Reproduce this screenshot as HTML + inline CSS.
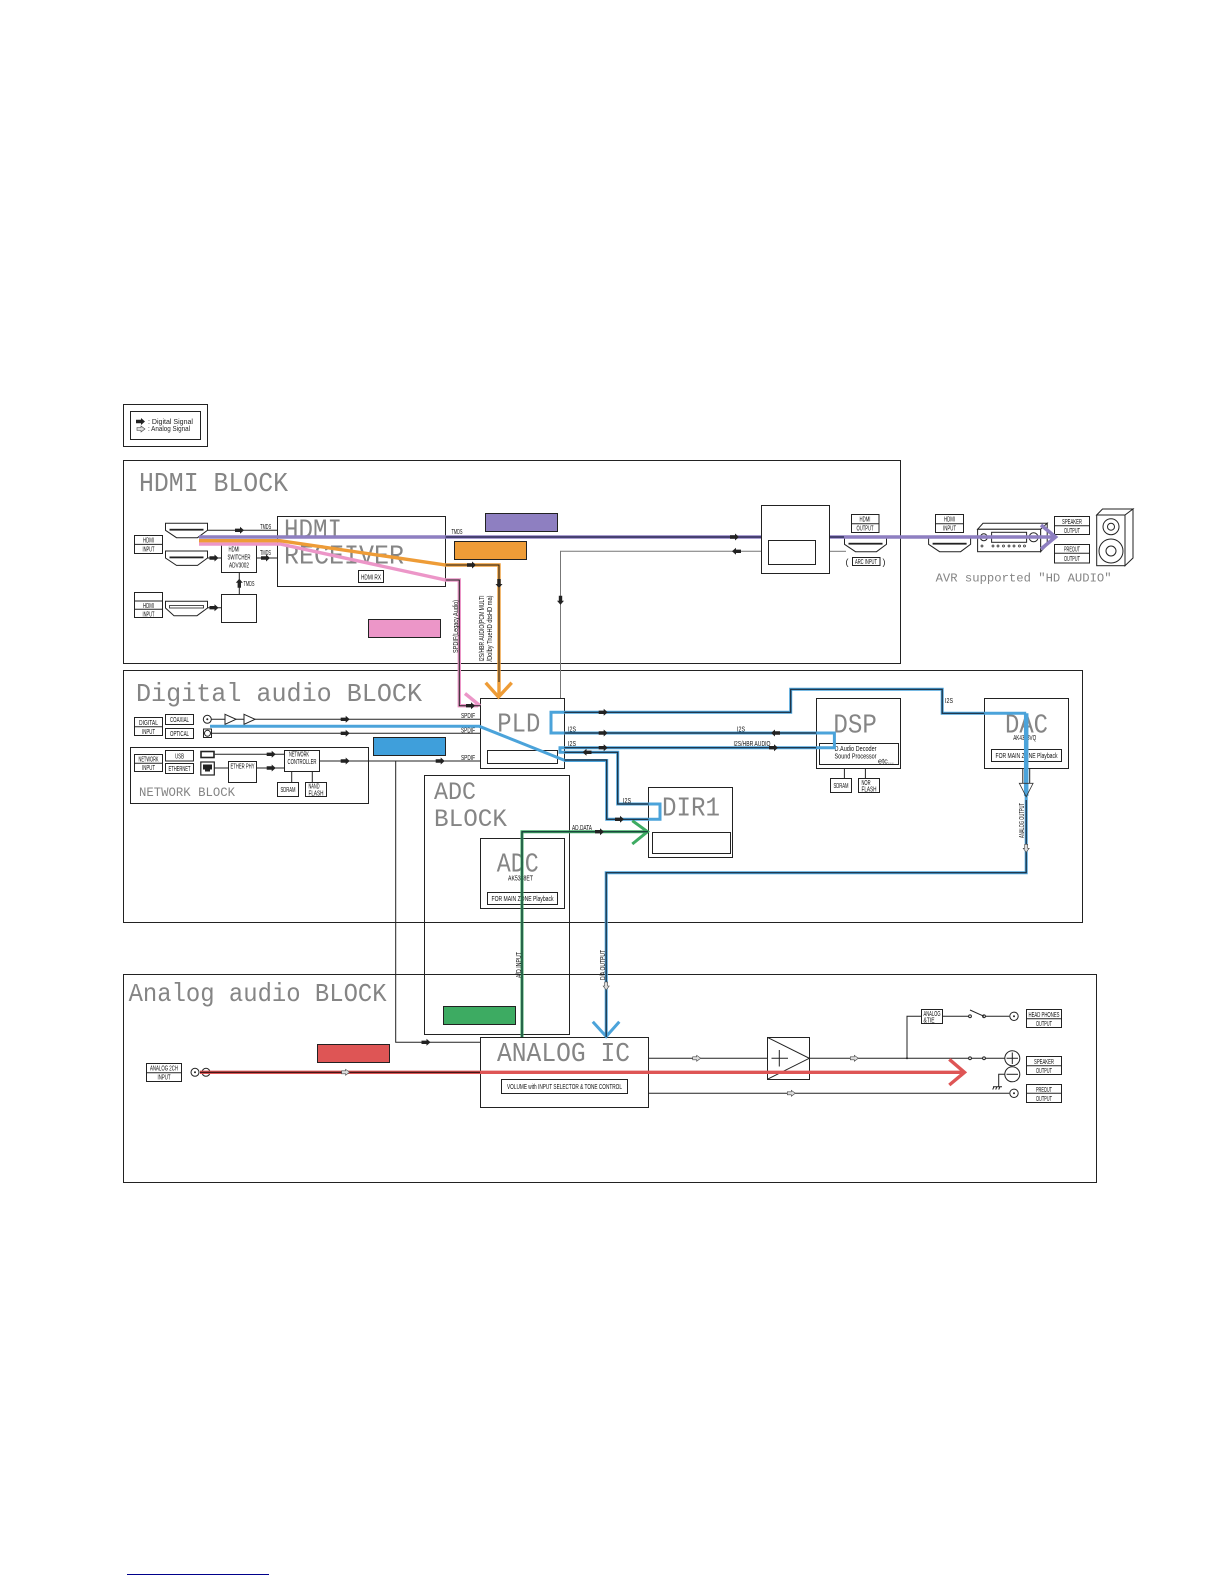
<!DOCTYPE html>
<html><head><meta charset="utf-8"><title>Block diagram</title>
<style>
html,body{margin:0;padding:0;background:#fff}
svg{display:block}
text{font-family:"Liberation Sans",sans-serif;fill:#222}
.t{font-family:"Liberation Mono",monospace;fill:#858585}
.s{font-size:7.2px;text-anchor:middle;font-family:"Liberation Sans",sans-serif;fill:#111}
.b{fill:none;stroke:#222;stroke-width:1}
.w{fill:#fff;stroke:#222;stroke-width:1}
.k{fill:none;stroke:#222;stroke-width:1}
.d{fill:none;stroke:#1b2a3a;stroke-width:1.2}
.cb{fill:none;stroke:#4ba3da;stroke-width:3}
</style></head><body>
<svg xmlns="http://www.w3.org/2000/svg" width="1224" height="1584" viewBox="0 0 1224 1584">
<defs>
<path id="a" d="M-5-1.7H0V-3.5L4 0 0 3.5V1.7H-5Z" fill="#222"/>
<path id="o" d="M-4-1.5H0V-3L4 0 0 3V1.5H-4Z" fill="#ddd" stroke="#444" stroke-width=".6"/>
<g id="hc"><path class="w" d="M0 0H42V7L32 14.4H11L0 7Z"/><rect x="4" y="5.5" width="34" height="1.8" fill="#222"/></g>
</defs>

<!-- Block frames -->
<rect class="b" x="123.5" y="404.5" width="84" height="42"/>
<rect class="b" x="130.5" y="411.5" width="70" height="28"/>
<rect class="b" x="123.5" y="460.5" width="777" height="203"/>
<rect class="b" x="123.5" y="670.5" width="959" height="252"/>
<rect class="b" x="123.5" y="974.5" width="973" height="208"/>

<!-- Legend -->
<use href="#a" x="141" y="421.5"/><use href="#o" x="141" y="429"/>
<text x="148" y="424" font-size="7" textLength="45" lengthAdjust="spacingAndGlyphs">: Digital Signal</text>
<text x="148" y="431" font-size="7" textLength="42" lengthAdjust="spacingAndGlyphs">: Analog Signal</text>

<!-- Titles -->
<text class="t" x="139" y="491" font-size="27" textLength="149" lengthAdjust="spacingAndGlyphs">HDMI BLOCK</text>
<text class="t" x="136" y="701" font-size="26" textLength="286" lengthAdjust="spacingAndGlyphs">Digital audio BLOCK</text>
<text class="t" x="128.6" y="1001" font-size="26" textLength="258" lengthAdjust="spacingAndGlyphs">Analog audio BLOCK</text>

<!-- ADC frame and gray lines -->
<rect class="b" x="424.5" y="775.5" width="145" height="259"/>
<path class="k" d="M395.7 761V1042.3H480"/>
<use href="#a" x="426.5" y="1042.3"/>
<path fill="none" stroke="#777" stroke-width="1" d="M761 551.3H560.5V698.3"/>
<use href="#a" x="0" y="0" transform="translate(560.5 600.7) rotate(90)"/>
<use href="#a" transform="translate(736 551.3) rotate(180)"/>
<path fill="none" stroke="#777" stroke-width="1" d="M830 551.3H846"/>

<!-- HDMI left -->
<rect class="w" x="134.5" y="535.5" width="28" height="18"/><path class="k" d="M134.5 544.4H162.5"/>
<text class="s" x="148.5" y="542.6" textLength="11" lengthAdjust="spacingAndGlyphs">HDMI</text><text class="s" x="148.5" y="551.4" textLength="12" lengthAdjust="spacingAndGlyphs">INPUT</text>
<rect class="w" x="134.5" y="592.5" width="28" height="25"/><path class="k" d="M134.5 601H162.5M134.5 609.3H162.5"/>
<text class="s" x="148.5" y="607.9" textLength="11" lengthAdjust="spacingAndGlyphs">HDMI</text><text class="s" x="148.5" y="616.3" textLength="12" lengthAdjust="spacingAndGlyphs">INPUT</text>
<use href="#hc" x="165.5" y="523.3"/>
<use href="#hc" x="165.5" y="551"/>
<path class="w" d="M165.5 601.3H207.5V608L197 615.7H174L165.5 608Z"/><rect x="169.5" y="605.5" width="34" height="2.5" fill="#fff" stroke="#222" stroke-width=".8"/>
<path class="k" d="M207.7 530.3H277.5M207.7 558H221.5M256.7 558H277.5M239.3 594.3V572.3M207.7 607.7H221.5"/>
<use href="#a" x="240" y="530.3"/><use href="#a" x="214.5" y="558"/><use href="#a" x="266" y="558"/>
<use href="#a" x="214.5" y="607.7"/><use href="#a" transform="translate(239.3 582.7) rotate(-90)"/>
<text class="s" x="265.7" y="529" textLength="11" lengthAdjust="spacingAndGlyphs">TMDS</text><text class="s" x="265.5" y="555" textLength="11" lengthAdjust="spacingAndGlyphs">TMDS</text><text class="s" x="249" y="586" textLength="11" lengthAdjust="spacingAndGlyphs">TMDS</text>
<rect class="w" x="221.5" y="544.5" width="35" height="28"/>
<text class="s" x="234" y="551.5" textLength="11" lengthAdjust="spacingAndGlyphs">HDMI</text><text class="s" x="239" y="559.5" textLength="23" lengthAdjust="spacingAndGlyphs">SWITCHER</text><text class="s" x="239" y="567.5" textLength="20" lengthAdjust="spacingAndGlyphs">ADV3002</text>

<rect class="w" x="221.5" y="594.5" width="35" height="28"/>

<rect class="b" x="277.5" y="516.5" width="168" height="70"/>
<text class="t" x="284" y="537.7" font-size="27" textLength="58" lengthAdjust="spacingAndGlyphs">HDMI</text>
<text class="t" x="284" y="563.3" font-size="27" textLength="120" lengthAdjust="spacingAndGlyphs">RECEIVER</text>
<rect class="w" x="358.5" y="570.5" width="25" height="12"/>
<text class="s" x="371" y="579.4" textLength="20" lengthAdjust="spacingAndGlyphs">HDMI RX</text>

<!-- Color labels -->
<rect x="485.5" y="513.5" width="72" height="18" fill="#8e7fc1" stroke="#222"/>
<rect x="454.5" y="541.5" width="72" height="18" fill="#ee9c37" stroke="#222"/>
<rect x="368.5" y="619.5" width="72" height="18" fill="#ec96c8" stroke="#222"/>
<rect x="373.5" y="737.5" width="72" height="18" fill="#3f9fdb" stroke="#222"/>
<rect x="443.5" y="1006.5" width="72" height="18" fill="#3dab62" stroke="#222"/>
<rect x="317.5" y="1044.5" width="72" height="18" fill="#de5555" stroke="#222"/>

<!-- Digital audio: inputs -->
<rect class="w" x="134.5" y="717.5" width="28" height="18"/><path class="k" d="M134.5 726.7H162.5"/>
<text class="s" x="148.5" y="724.8" textLength="19" lengthAdjust="spacingAndGlyphs">DIGITAL</text><text class="s" x="148.5" y="733.8" textLength="13" lengthAdjust="spacingAndGlyphs">INPUT</text>
<rect class="w" x="165.5" y="714.5" width="28" height="10"/><text class="s" x="179.5" y="721.8" textLength="19" lengthAdjust="spacingAndGlyphs">COAXIAL</text>
<rect class="w" x="165.5" y="728.5" width="28" height="10"/><text class="s" x="179.5" y="735.8" textLength="19" lengthAdjust="spacingAndGlyphs">OPTICAL</text>
<circle class="b" cx="207.3" cy="719.3" r="4"/><circle cx="207.3" cy="719.3" r="1" fill="#222"/>
<rect class="b" x="203.5" y="729" width="8" height="8.5"/><circle class="b" cx="207.5" cy="733.3" r="3"/>
<path class="k" d="M211.5 719.3H480.3M212 733.3H480.3"/>
<path class="w" d="M225 714.3L236 719.3 225 724.3ZM244 714.3L255 719.3 244 724.3Z"/>
<use href="#a" x="345.7" y="719.3"/><use href="#a" x="345.7" y="733.3"/>
<text class="s" x="468" y="718" textLength="14" lengthAdjust="spacingAndGlyphs">SPDIF</text><text class="s" x="468" y="732.5" textLength="14" lengthAdjust="spacingAndGlyphs">SPDIF</text><text class="s" x="468" y="760" textLength="14" lengthAdjust="spacingAndGlyphs">SPDIF</text>

<!-- Network -->
<rect class="b" x="130.5" y="747.5" width="238" height="56"/>
<rect class="w" x="134.5" y="754.5" width="28" height="17"/><path class="k" d="M134.5 763.3H162.5"/>
<text class="s" x="148.5" y="761.6" textLength="20" lengthAdjust="spacingAndGlyphs">NETWORK</text><text class="s" x="148.5" y="770.2" textLength="13" lengthAdjust="spacingAndGlyphs">INPUT</text>
<rect class="w" x="165.5" y="750.5" width="28" height="10.5"/><text class="s" x="179.5" y="758.3" textLength="9" lengthAdjust="spacingAndGlyphs">USB</text>
<rect class="w" x="165.5" y="763.5" width="28" height="10"/><text class="s" x="179.5" y="771.2" textLength="22" lengthAdjust="spacingAndGlyphs">ETHERNET</text>
<rect x="201" y="751.5" width="13" height="6" fill="#fff" stroke="#222" stroke-width="1.6"/>
<rect x="200.8" y="762" width="13.5" height="13" fill="#fff" stroke="#222" stroke-width="1.2"/>
<path d="M203 764.5h9v5h-2v2h-5v-2h-2z" fill="#222"/>
<path class="k" d="M214.7 754.3H284.3M214.7 768H228.5M256.7 768H284.3M319.7 761H480.3M291.7 771.3V782.3M312.3 771.3V782.3"/>
<use href="#a" x="271.7" y="754.3"/><use href="#a" x="271.7" y="768"/><use href="#a" x="345.7" y="761"/><use href="#a" x="440.7" y="761"/>
<rect class="w" x="228.5" y="761.5" width="28" height="21"/><text class="s" x="242.5" y="768.5" textLength="24" lengthAdjust="spacingAndGlyphs">ETHER PHY</text>
<rect class="w" x="284.5" y="750.5" width="35" height="21"/><text class="s" x="299" y="756.5" textLength="20" lengthAdjust="spacingAndGlyphs">NETWORK</text><text class="s" x="302" y="763.8" textLength="29" lengthAdjust="spacingAndGlyphs">CONTROLLER</text>
<rect class="w" x="277.5" y="782.5" width="21" height="14"/><text class="s" x="288" y="791.8" textLength="15" lengthAdjust="spacingAndGlyphs">SDRAM</text>
<rect class="w" x="305.5" y="782.5" width="21" height="14"/><text class="s" x="314" y="788.5" textLength="11" lengthAdjust="spacingAndGlyphs">NAND</text><text class="s" x="316" y="795.3" textLength="15" lengthAdjust="spacingAndGlyphs">FLASH</text>
<text class="t" x="139" y="796" font-size="13" textLength="96" lengthAdjust="spacingAndGlyphs">NETWORK BLOCK</text>

<!-- ADC -->
<text class="t" x="434" y="799" font-size="25" textLength="42" lengthAdjust="spacingAndGlyphs">ADC</text>
<text class="t" x="434" y="826" font-size="25" textLength="73" lengthAdjust="spacingAndGlyphs">BLOCK</text>
<rect class="b" x="480.5" y="838.5" width="84" height="70"/>
<text class="t" x="496.7" y="871.7" font-size="27" textLength="42" lengthAdjust="spacingAndGlyphs">ADC</text>
<text class="s" x="520.5" y="880.5" textLength="25" lengthAdjust="spacingAndGlyphs">AK5358ET</text>
<rect class="w" x="487.5" y="892.5" width="70" height="12"/>
<text class="s" x="522.5" y="901" textLength="62" lengthAdjust="spacingAndGlyphs">FOR MAIN ZONE Playback</text>

<!-- Main boxes -->
<rect class="w" x="480.5" y="698.5" width="84" height="70"/>
<text class="t" x="497.3" y="731.7" font-size="27" textLength="43" lengthAdjust="spacingAndGlyphs">PLD</text>
<rect class="w" x="487.5" y="750.5" width="70" height="13"/>
<rect class="w" x="816.5" y="698.5" width="84" height="70"/>
<text class="t" x="833.4" y="732.3" font-size="27" textLength="43.4" lengthAdjust="spacingAndGlyphs">DSP</text>
<rect class="w" x="819.5" y="743.5" width="79" height="21"/>
<text class="s" x="855.5" y="751" textLength="42" lengthAdjust="spacingAndGlyphs">D.Audio Decoder</text>
<text class="s" x="855.5" y="758.5" textLength="42" lengthAdjust="spacingAndGlyphs">Sound Processor</text>
<text class="s" x="886" y="763.5" textLength="16" lengthAdjust="spacingAndGlyphs">etc...</text>
<path class="k" d="M844.4 768.3V778.3M865.4 768.3V778.3"/>
<rect class="w" x="830.5" y="778.5" width="21" height="14"/><text class="s" x="841" y="788" textLength="15" lengthAdjust="spacingAndGlyphs">SDRAM</text>
<rect class="w" x="858.5" y="778.5" width="21" height="14"/><text class="s" x="866" y="785" textLength="9" lengthAdjust="spacingAndGlyphs">NOR</text><text class="s" x="869" y="791.5" textLength="15" lengthAdjust="spacingAndGlyphs">FLASH</text>
<rect class="w" x="984.5" y="698.5" width="84" height="70"/>
<text class="t" x="1005" y="732.3" font-size="27" textLength="43" lengthAdjust="spacingAndGlyphs">DAC</text>
<text class="s" x="1024.7" y="740" textLength="23" lengthAdjust="spacingAndGlyphs">AK4358VQ</text>
<rect class="w" x="991.5" y="749.5" width="70" height="12"/>
<text class="s" x="1026.5" y="758" textLength="62" lengthAdjust="spacingAndGlyphs">FOR MAIN ZONE Playback</text>
<rect class="w" x="648.5" y="787.5" width="84" height="70"/>
<text class="t" x="662" y="815.7" font-size="27" textLength="58" lengthAdjust="spacingAndGlyphs">DIR1</text>
<rect class="w" x="652.5" y="832.5" width="78" height="21"/>
<rect class="w" x="761.5" y="505.5" width="68" height="68"/>
<rect class="w" x="768.5" y="540.5" width="47" height="24"/>

<!-- Analog IC -->
<rect class="w" x="480.5" y="1037.5" width="168" height="70"/>
<text class="t" x="497" y="1061" font-size="27" textLength="133" lengthAdjust="spacingAndGlyphs">ANALOG IC</text>
<rect class="w" x="501.5" y="1079.5" width="126" height="14"/>
<text class="s" x="564.5" y="1089" textLength="115" lengthAdjust="spacingAndGlyphs">VOLUME with INPUT SELECTOR &amp; TONE CONTROL</text>

<!-- Analog inputs and outputs -->
<rect class="w" x="146.5" y="1063.5" width="35" height="18"/><path class="k" d="M146.5 1072.7H181.5"/>
<text class="s" x="164" y="1070.7" textLength="28" lengthAdjust="spacingAndGlyphs">ANALOG 2CH</text><text class="s" x="164" y="1079.7" textLength="13" lengthAdjust="spacingAndGlyphs">INPUT</text>
<circle class="b" cx="195" cy="1072.3" r="4"/><circle cx="195" cy="1072.3" r="1" fill="#222"/><circle class="b" cx="206" cy="1072.3" r="4"/><circle cx="206" cy="1072.3" r="1" fill="#222"/>
<path class="k" d="M648.2 1058.3H767.3M809.3 1058.3H968.3M648.2 1093.3H1009.3M907 1058.3V1016.3H921.3M942.7 1016.3H970M984 1016.3H1009.3M984 1058.3H1005M970 1058.3L984 1058.3"/>
<rect class="w" x="767.5" y="1037.5" width="42" height="42"/>
<path class="k" d="M767.3 1037.3L809.3 1058.3 767.3 1079.3M771.5 1058.3H788M779.3 1050V1066.5"/>
<use href="#o" x="696.7" y="1058.3"/><use href="#o" x="854.3" y="1058.3"/><use href="#o" x="791.3" y="1093.3"/>
<circle cx="907" cy="1058.3" r="1" fill="#222"/>
<rect class="w" x="921.5" y="1009.5" width="21" height="14"/><text class="s" x="932" y="1015.8" textLength="17" lengthAdjust="spacingAndGlyphs">ANALOG</text><text class="s" x="929" y="1022.5" textLength="11" lengthAdjust="spacingAndGlyphs">&amp;TIE</text>
<circle class="w" cx="970" cy="1016.3" r="1.4"/><circle class="w" cx="984" cy="1016.3" r="1.4"/><path class="k" d="M970 1010L984 1016.3"/>
<circle class="w" cx="970" cy="1058.3" r="1.4"/><circle class="w" cx="984" cy="1058.3" r="1.4"/>
<circle class="w" cx="1014" cy="1016.3" r="4.2"/><circle cx="1014" cy="1016.3" r="1" fill="#222"/>
<circle class="w" cx="1014" cy="1093.3" r="4.2"/><circle cx="1014" cy="1093.3" r="1" fill="#222"/>
<circle class="w" cx="1012.3" cy="1058.3" r="7.5"/><path class="k" d="M1006.5 1058.3H1018M1012.3 1052.5V1064"/>
<path class="k" d="M1005 1074.3H998.7V1086.7M993 1086.7H1002M994 1086.7L992.7 1089.5M997 1086.7L995.7 1089.5M1000 1086.7L998.7 1089.5"/>
<circle class="w" cx="1012.3" cy="1074.3" r="7.5"/><path class="k" d="M1006.5 1074.3H1018"/>
<rect class="w" x="1026.5" y="1009.5" width="35" height="18"/><path class="k" d="M1026.5 1018.7H1061.5"/>
<text class="s" x="1044" y="1016.8" textLength="31" lengthAdjust="spacingAndGlyphs">HEAD PHONES</text><text class="s" x="1044" y="1025.8" textLength="16" lengthAdjust="spacingAndGlyphs">OUTPUT</text>
<rect class="w" x="1026.5" y="1056.5" width="35" height="18"/><path class="k" d="M1026.5 1065.7H1061.5"/>
<text class="s" x="1044" y="1063.8" textLength="20" lengthAdjust="spacingAndGlyphs">SPEAKER</text><text class="s" x="1044" y="1072.8" textLength="16" lengthAdjust="spacingAndGlyphs">OUTPUT</text>
<rect class="w" x="1026.5" y="1084.5" width="35" height="18"/><path class="k" d="M1026.5 1093.3H1061.5"/>
<text class="s" x="1044" y="1091.8" textLength="16" lengthAdjust="spacingAndGlyphs">PREOUT</text><text class="s" x="1044" y="1100.8" textLength="16" lengthAdjust="spacingAndGlyphs">OUTPUT</text>

<!-- HDMI right side -->
<rect class="w" x="851.5" y="514.5" width="27.5" height="18"/><path class="k" d="M851.5 523.7H879"/>
<text class="s" x="865" y="521.7" textLength="11" lengthAdjust="spacingAndGlyphs">HDMI</text><text class="s" x="865" y="530.7" textLength="17" lengthAdjust="spacingAndGlyphs">OUTPUT</text>
<use href="#hc" x="844.5" y="537.3"/>
<rect class="w" x="852.5" y="557.5" width="27.5" height="8"/><text class="s" x="866" y="564" textLength="22" lengthAdjust="spacingAndGlyphs">ARC INPUT</text>
<text x="847" y="565" font-size="9" fill="#333" text-anchor="middle">(</text><text x="884" y="565" font-size="9" fill="#333" text-anchor="middle">)</text>
<rect class="w" x="935.5" y="514.5" width="28" height="18"/><path class="k" d="M935.5 523.7H963.5"/>
<text class="s" x="949.5" y="521.7" textLength="11" lengthAdjust="spacingAndGlyphs">HDMI</text><text class="s" x="949.5" y="530.7" textLength="13" lengthAdjust="spacingAndGlyphs">INPUT</text>
<use href="#hc" x="928.6" y="537.3"/>
<path class="w" d="M977.6 529.3L983 523.3H1047.2L1040.6 529.3ZM1040.6 529.3L1047.2 523.3V545L1040.6 551.7Z"/>
<rect class="w" x="977.6" y="529.3" width="63" height="22.4"/>
<rect class="b" x="991.6" y="532.3" width="35" height="10"/>
<circle class="b" cx="983.8" cy="537.3" r="3.5"/><circle class="b" cx="1033.6" cy="537.3" r="4.5"/>
<g fill="#fff" stroke="#222" stroke-width=".7"><circle cx="982" cy="546" r="1"/><circle cx="993" cy="546" r="1"/><circle cx="998" cy="546" r="1"/><circle cx="1003.5" cy="546" r="1"/><circle cx="1009" cy="546" r="1"/><circle cx="1014" cy="546" r="1"/><circle cx="1019.5" cy="546" r="1"/><circle cx="1024.5" cy="546" r="1"/></g>
<rect class="w" x="1054.5" y="516.5" width="35" height="18"/><path class="k" d="M1054.5 525.7H1089.5"/>
<text class="s" x="1072" y="523.8" textLength="20" lengthAdjust="spacingAndGlyphs">SPEAKER</text><text class="s" x="1072" y="532.8" textLength="16" lengthAdjust="spacingAndGlyphs">OUTPUT</text>
<rect class="w" x="1054.5" y="544.5" width="35" height="18.5"/><path class="k" d="M1054.5 553.3H1089.5"/>
<text class="s" x="1072" y="551.7" textLength="16" lengthAdjust="spacingAndGlyphs">PREOUT</text><text class="s" x="1072" y="561" textLength="16" lengthAdjust="spacingAndGlyphs">OUTPUT</text>
<path class="w" d="M1096.7 515L1102.5 509H1133L1125 515ZM1125 515L1133 509V558L1125 565.7Z"/>
<rect class="w" x="1096.7" y="515" width="28.3" height="50.7"/>
<circle class="b" cx="1111" cy="526.7" r="8"/><circle class="b" cx="1111" cy="526.7" r="3.5"/>
<circle class="b" cx="1111" cy="551" r="12"/><circle class="b" cx="1111" cy="551" r="5"/>
<text class="t" x="935.6" y="581.7" font-size="11.5" textLength="176" lengthAdjust="spacingAndGlyphs">AVR supported "HD AUDIO"</text>

<!-- Thick colored signals -->
<g fill="none" stroke-linejoin="miter">
<path stroke="#8e7fc1" stroke-width="3.6" d="M199 537H761M830 537H1055"/>
<path stroke="#8e7fc1" stroke-width="3.6" d="M1041 525L1055.5 537 1041 549"/>
<path stroke="#ec96c8" stroke-width="3.4" d="M199 544H280L445.7 580H459.3V705.7H478"/>
<path stroke="#ec96c8" stroke-width="3.4" d="M465 693.5L480 705.7"/>
<path stroke="#ee9c37" stroke-width="3.4" d="M199 540.7H280L445.7 565H499V697"/>
<path stroke="#ee9c37" stroke-width="3.4" d="M485.7 682.7L498.5 697 511.7 682.7"/>
<path class="cb" d="M210 726.3H479.3L565 760.5H606.7V819.3H660V804H617.7V752.3H560V747.7H834.4V733H551V712.3H790.7V689.3H942.2V713.3H1026.2"/>
<path stroke="#4ba3da" stroke-width="4.5" d="M1026.2 713.3V796"/>
<path stroke="#4ba3da" stroke-width="3" d="M1026.2 796V872.7H606.2V1036"/>
<path stroke="#4ba3da" stroke-width="3" d="M592.8 1021.7L606.2 1036.5 619.3 1021.7"/>
<path stroke="#3dab62" stroke-width="3" d="M522 1037V831.7H647"/>
<path stroke="#3dab62" stroke-width="3" d="M632.3 820.7L647.5 831.7 632.3 844"/>
<path stroke="#de5555" stroke-width="3.4" d="M200 1072.3H964"/>
<path stroke="#de5555" stroke-width="3.4" d="M949.3 1059.3L964.5 1072.3 949.3 1085"/>
</g>
<!-- Dark cores -->
<g fill="none">
<path stroke="#1c1c44" stroke-width="1.2" d="M445.7 537H761M830 537H844"/>
<path stroke="#222" stroke-width="1" d="M445.7 565H499V682M445.7 580H459.3V705.7H480"/>
<path class="d" d="M564.3 712.3H790.7V689.3H942.2V713.3H984.2M564.3 733H816.2M564.3 747.7H816.2M564.3 752.3H617.7V804H648.5M564.3 760H606.7V819.3H648.5"/>
<path class="d" d="M1026.2 800V872.7H606.2V1037"/>
<path stroke="#123" stroke-width="1" d="M522 1037V831.7H648"/>
<path stroke="#301010" stroke-width="1.1" d="M200 1072.3H480"/>
<path class="k" d="M1022.8 768.3V783.3M1029.7 768.3V783.3"/>
</g>
<path fill="none" stroke="#333" stroke-width=".8" d="M1019.3 783.3H1033.1L1026.2 796.7Z"/>

<!-- Arrows on signals -->
<use href="#a" x="603.7" y="712.3"/><use href="#a" x="603.7" y="733"/><use href="#a" x="603.7" y="747.7"/>
<use href="#a" transform="translate(775 733) rotate(180)"/><use href="#a" x="774" y="747.7"/>
<use href="#a" transform="translate(586.5 752.3) rotate(180)"/><use href="#a" x="620" y="819.3"/><use href="#a" x="600" y="831.7"/>
<use href="#a" x="735" y="537"/><use href="#a" x="472" y="565"/><use href="#a" transform="translate(499 584) rotate(90)"/>
<use href="#a" x="471" y="705.7"/><use href="#o" x="345.6" y="1072.3"/><use href="#o" transform="translate(1026.2 848.3) rotate(90)"/>
<use href="#o" transform="translate(606.2 986) rotate(90)"/>

<!-- Signal labels -->
<text class="s" x="457" y="534" textLength="11" lengthAdjust="spacingAndGlyphs">TMDS</text>
<text class="s" x="572" y="731.5" textLength="8" lengthAdjust="spacingAndGlyphs">I2S</text><text class="s" x="741" y="731.5" textLength="8" lengthAdjust="spacingAndGlyphs">I2S</text>
<text class="s" x="572" y="746" textLength="8" lengthAdjust="spacingAndGlyphs">I2S</text><text class="s" x="752" y="746" textLength="37" lengthAdjust="spacingAndGlyphs">I2S/HBR AUDIO</text>
<text class="s" x="949" y="703" textLength="8" lengthAdjust="spacingAndGlyphs">I2S</text><text class="s" x="627" y="803" textLength="8" lengthAdjust="spacingAndGlyphs">I2S</text>
<text class="s" x="582" y="830" textLength="20" lengthAdjust="spacingAndGlyphs">AD.DATA</text>
<text class="s" transform="translate(458 626.5) rotate(-90)" textLength="53" lengthAdjust="spacingAndGlyphs">SPDIF(Legacy Audio)</text>
<text class="s" transform="translate(484 628.5) rotate(-90)" textLength="66" lengthAdjust="spacingAndGlyphs">I2S/HBR AUDIO(PCM MULTI</text>
<text class="s" transform="translate(492 628.5) rotate(-90)" textLength="66" lengthAdjust="spacingAndGlyphs">/Dolby TrueHD dtsHD ma)</text>
<text class="s" transform="translate(1024 820.5) rotate(-90)" textLength="35" lengthAdjust="spacingAndGlyphs">ANALOG OUTPUT</text>
<text class="s" transform="translate(521 965) rotate(-90)" textLength="26" lengthAdjust="spacingAndGlyphs">A/D INPUT</text>
<text class="s" transform="translate(605 965) rotate(-90)" textLength="30" lengthAdjust="spacingAndGlyphs">D/A OUTPUT</text>

<!-- Footer rule -->
<rect x="127" y="1574" width="142" height="1" fill="#00008b"/>
</svg>
</body></html>
